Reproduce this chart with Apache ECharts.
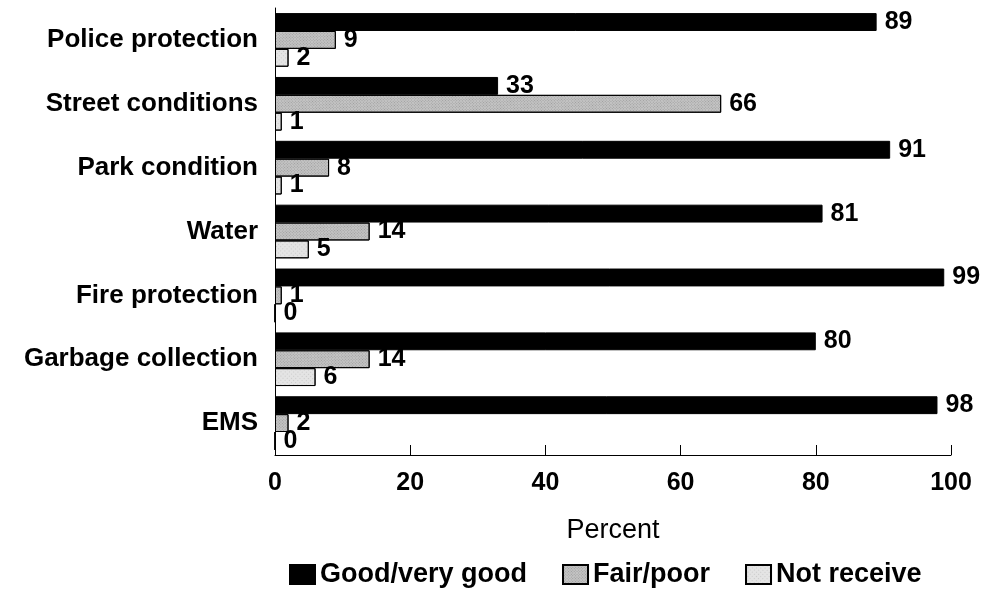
<!DOCTYPE html>
<html><head><meta charset="utf-8">
<script src="https://cdn.jsdelivr.net/npm/echarts@6/dist/echarts.min.js"></script>
<style>html,body{margin:0;padding:0;background:#fff}#c{width:1000px;height:590px}</style>
</head><body><div id="c"></div>
<script>
var categories = ['Police protection','Street conditions','Park condition','Water','Fire protection','Garbage collection','EMS'];
var goodVals = [89,33,91,81,99,80,98];
var fairVals = [9,66,8,14,1,14,2];
var notVals = [2,1,1,5,0,6,0];
var xTicks = [0,20,40,60,80,100];
var seriesNames = ['Good/very good','Fair/poor','Not receive'];

var FONT = 'Liberation Sans, Arial, sans-serif';
var chart = echarts.init(document.getElementById('c'), null, {renderer:'canvas'});
function lbl(){return {show:true, position:'right', distance:8, color:'#000', fontFamily:FONT, fontWeight:'bold', fontSize:25};}
chart.setOption({
  animation:false,
  backgroundColor:'#fff',
  grid:{left:275, right:49, top:8, bottom:135, containLabel:false},
  legend:{
    data:seriesNames, top:556, left:284, itemWidth:25, itemHeight:19, itemGap:35,
    textStyle:{fontFamily:FONT, fontWeight:'bold', fontSize:27, color:'#000'},
    icon:'rect'
  },
  xAxis:{
    type:'value', min:xTicks[0], max:xTicks[xTicks.length-1], interval:20,
    name:'Percent', nameLocation:'middle', nameGap:62,
    nameTextStyle:{fontFamily:FONT, fontSize:27, color:'#000'},
    axisLine:{show:true, lineStyle:{color:'#000', width:1}},
    axisTick:{show:true, inside:true, length:10, lineStyle:{color:'#000'}},
    axisLabel:{fontFamily:FONT, fontWeight:'bold', fontSize:25, color:'#000', margin:16},
    splitLine:{show:false}
  },
  yAxis:{
    type:'category', data:categories, inverse:true,
    axisLine:{show:true, onZero:false, lineStyle:{color:'#000', width:1}},
    axisTick:{show:false},
    axisLabel:{fontFamily:FONT, fontWeight:'bold', fontSize:26, color:'#000', margin:17},
    splitLine:{show:false}
  },
  series:[
    {name:seriesNames[0], type:'bar', data:goodVals, barGap:'0%', barCategoryGap:'16%',
     itemStyle:{color:'#000', borderColor:'#000', borderWidth:1}, label:lbl()},
    {name:seriesNames[1], type:'bar', data:fairVals, barGap:'0%', barCategoryGap:'16%',
     itemStyle:{color:'#c4c4c4', borderColor:'#000', borderWidth:1,
       decal:{symbol:'rect', symbolSize:1, dashArrayX:[1,1], dashArrayY:[1,1], rotation:0.8, color:'rgba(110,110,110,0.45)'}},
     label:lbl()},
    {name:seriesNames[2], type:'bar', data:notVals, barGap:'0%', barCategoryGap:'16%',
     itemStyle:{color:'#e4e4e4', borderColor:'#000', borderWidth:1,
       decal:{symbol:'rect', symbolSize:1, dashArrayX:[1,2], dashArrayY:[1,2], rotation:0.8, color:'rgba(170,170,170,0.45)'}},
     label:lbl()}
  ]
});
</script></body></html>
